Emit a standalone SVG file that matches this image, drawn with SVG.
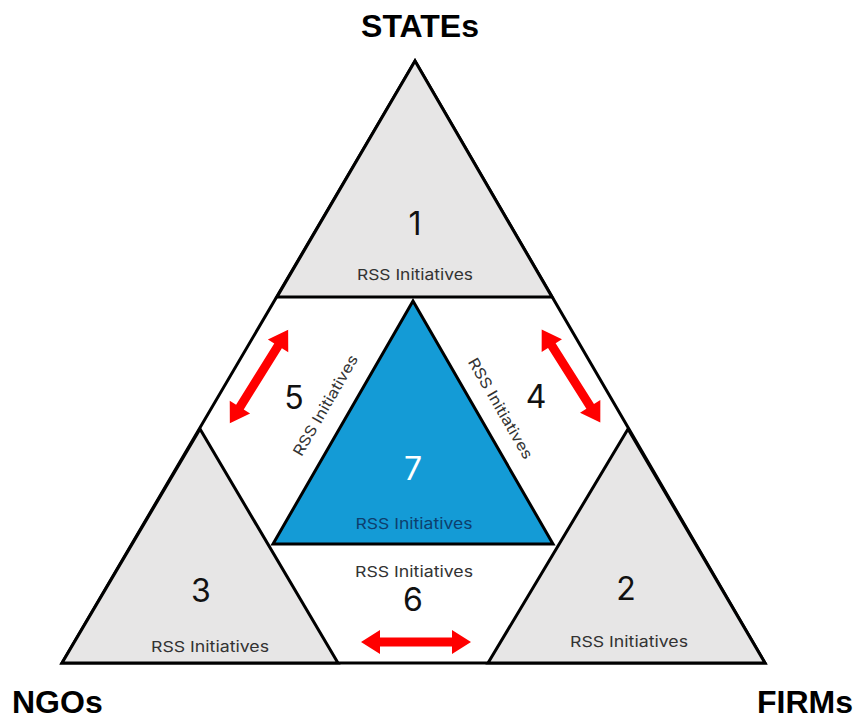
<svg xmlns="http://www.w3.org/2000/svg" width="868" height="720" viewBox="0 0 868 720">
<style>
.edge{stroke:#000;stroke-width:3;stroke-linejoin:miter}
.grey{fill:#e7e6e6}
.lbl{font-family:Inter,"Liberation Sans",sans-serif;font-size:15px;fill:#333;text-anchor:middle}
.num{font-family:Inter,"Liberation Sans",sans-serif;font-size:32px;fill:#111;text-anchor:middle}
.corner{font-family:"Liberation Sans",Arial,sans-serif;font-weight:bold;font-size:32px;fill:#000}
.arrow{fill:#f00}
</style>
<defs>
<polygon id="dbl" points="-55,0 -36,-12 -36,-4.5 36,-4.5 36,-12 55,0 36,12 36,4.5 -36,4.5 -36,12"/>
</defs>
<rect width="868" height="720" fill="#fff"/>
<g id="outer">
<polygon points="415,61 62,663 765,663" fill="#fff" class="edge"/>
</g>
<g id="node1">
<polygon points="415,61 277,297 552,297" class="grey edge"/>
<text x="415" y="235" class="num">1</text>
<text x="415" y="280" class="lbl" textLength="116" lengthAdjust="spacingAndGlyphs">RSS Initiatives</text>
</g>
<g id="node3">
<polygon points="200,429 62,663 338,663" class="grey edge"/>
<text x="201" y="602" class="num">3</text>
<text x="210" y="652" class="lbl" textLength="118" lengthAdjust="spacingAndGlyphs">RSS Initiatives</text>
</g>
<g id="node2">
<polygon points="628,429 488,663 765,663" class="grey edge"/>
<text x="626" y="600" class="num">2</text>
<text x="629" y="647" class="lbl" textLength="118" lengthAdjust="spacingAndGlyphs">RSS Initiatives</text>
</g>
<g id="node7">
<polygon points="413,301 273,544 553,544" fill="#149bd6" class="edge"/>
<text x="413" y="480" class="num" style="fill:#fff">7</text>
<text x="414" y="529" class="lbl" style="fill:#0d3f6e" textLength="117" lengthAdjust="spacingAndGlyphs">RSS Initiatives</text>
</g>
<g id="node5">
<text x="294" y="409" class="num">5</text>
<text x="0" y="0" class="lbl" transform="translate(330,408) rotate(-60)" textLength="114" lengthAdjust="spacingAndGlyphs">RSS Initiatives</text>
</g>
<g id="node4">
<text x="536" y="408" class="num">4</text>
<text x="0" y="0" class="lbl" transform="translate(496,411) rotate(60)" textLength="114" lengthAdjust="spacingAndGlyphs">RSS Initiatives</text>
</g>
<g id="node6">
<text x="414" y="577" class="lbl" textLength="118" lengthAdjust="spacingAndGlyphs">RSS Initiatives</text>
<text x="413" y="611" class="num">6</text>
</g>
<g id="labels">
<text x="420" y="37" class="corner" text-anchor="middle">STATEs</text>
<text x="12" y="713" class="corner">NGOs</text>
<text x="757" y="713" class="corner">FIRMs</text>
</g>
<g id="connectors" class="arrow">
<use href="#dbl" transform="translate(259,376.5) rotate(122)"/>
<use href="#dbl" transform="translate(571,376) rotate(57.8)"/>
<use href="#dbl" transform="translate(416,642)"/>
</g>
</svg>
